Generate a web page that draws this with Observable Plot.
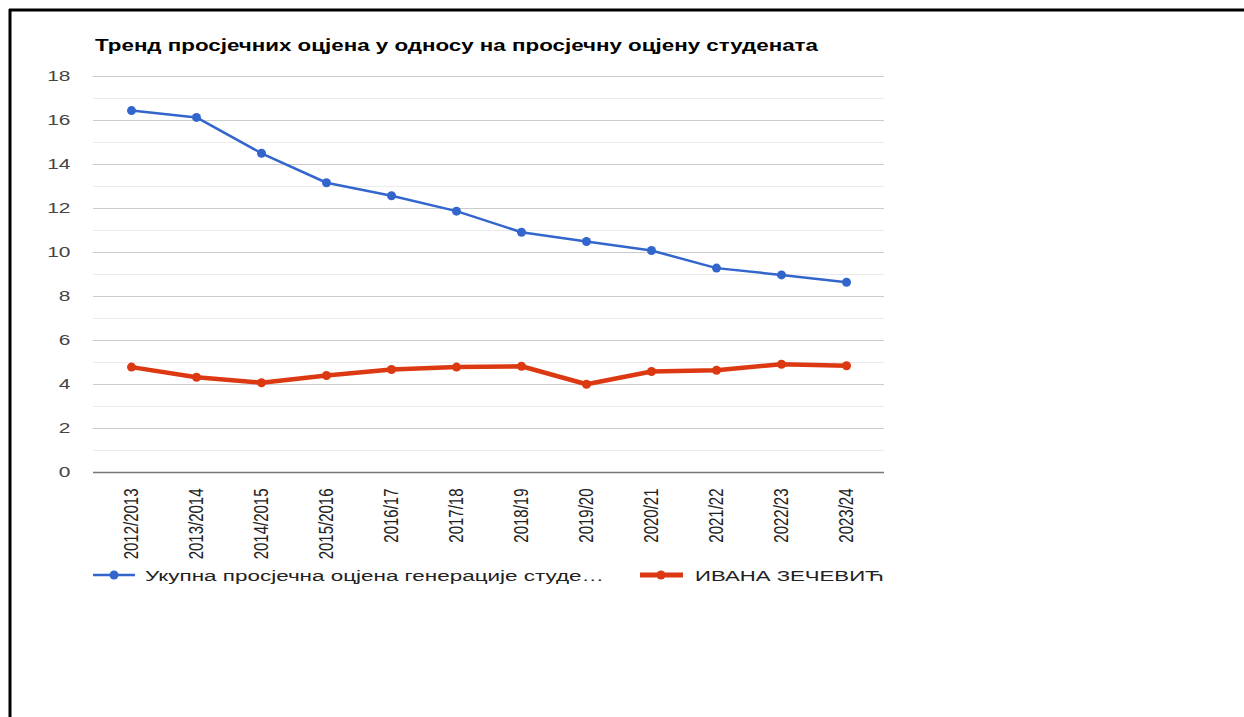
<!DOCTYPE html>
<html>
<head>
<meta charset="utf-8">
<script src="https://cdn.jsdelivr.net/npm/d3@7"></script>
<script src="https://cdn.jsdelivr.net/npm/@observablehq/plot@0.6"></script>
<style>
  html, body { margin: 0; padding: 0; background: #fff; }
  #wrap { position: relative; width: 1244px; height: 717px; overflow: hidden; font-family: "Liberation Sans", Arial, sans-serif; }
  #wrap > svg { position: absolute; left: 0; top: 0; }
</style>
</head>
<body>
<div id="wrap"></div>
<script>
const titleText = "Тренд просјечних оцјена у односу на просјечну оцјену студената";
const years = ["2012/2013","2013/2014","2014/2015","2015/2016","2016/17","2017/18","2018/19","2019/20","2020/21","2021/22","2022/23","2023/24"];
const seriesNames = ["Укупна просјечна оцјена генерације студе…", "ИВАНА ЗЕЧЕВИЋ"];
const totalAvg = [16.45,16.14,14.51,13.17,12.58,11.88,10.92,10.50,10.09,9.29,8.98,8.65];
const studentAvg = [4.79,4.33,4.08,4.41,4.68,4.79,4.83,4.01,4.59,4.65,4.92,4.85];
const yTicks = [0,2,4,6,8,10,12,14,16,18];
const yMinor = [1,3,5,7,9,11,13,15,17];
const colors = ["#3366cc", "#dc3912"];

const blueData = years.map((y, i) => ({year: y, value: totalAvg[i]}));
const redData = years.map((y, i) => ({year: y, value: studentAvg[i]}));

const wrap = document.getElementById("wrap");

const chart = Plot.plot({
  width: 1244,
  height: 560,
  marginLeft: 93,
  marginRight: 360,
  marginTop: 76,
  marginBottom: 88,
  style: {fontFamily: "'Liberation Sans', Arial, sans-serif", background: "transparent"},
  x: {type: "point", domain: years, padding: 0.5, label: null},
  y: {domain: [0, 18], label: null},
  marks: [
    Plot.ruleY(yMinor, {stroke: "#ebebeb", strokeWidth: 1}),
    Plot.ruleY(yTicks.filter(d => d > 0), {stroke: "#cccccc", strokeWidth: 1}),
    Plot.axisY({ticks: yTicks, tickSize: 0, tickPadding: 23, fontSize: 15.5, fill: "#444", label: null}),
    Plot.axisX({tickRotate: -90, tickSize: 0, tickPadding: 16, fontSize: 15, fill: "#222", label: null}),
    Plot.ruleY([0], {stroke: "#777", strokeWidth: 1.5}),
    Plot.lineY(redData, {x: "year", y: "value", stroke: colors[1], strokeWidth: 4.5}),
    Plot.dot(redData, {x: "year", y: "value", fill: colors[1], r: 4.5}),
    Plot.lineY(blueData, {x: "year", y: "value", stroke: colors[0], strokeWidth: 2.5}),
    Plot.dot(blueData, {x: "year", y: "value", fill: colors[0], r: 4.5})
  ]
});
wrap.appendChild(chart);

// widen y tick labels slightly to match the stretched original
d3.select(chart).selectAll('g[aria-label="y-axis tick label"] text').each(function() {
  const len = this.getComputedTextLength();
  this.setAttribute("textLength", len * 1.35);
  this.setAttribute("lengthAdjust", "spacingAndGlyphs");
});
// thicken rotated x labels horizontally (the original is stretched sideways)
d3.select(chart).selectAll('g[aria-label="x-axis tick label"] text').each(function() {
  const t = this.getAttribute("transform") || "";
  this.setAttribute("transform", t + " scale(1,1.3)");
});

// overlay: border, title, legend
const ov = d3.select(wrap).append("svg")
  .attr("width", 1244).attr("height", 717)
  .style("font-family", "'Liberation Sans', Arial, sans-serif");

ov.append("line").attr("x1", 9).attr("x2", 1244).attr("y1", 10).attr("y2", 10).attr("stroke", "#000").attr("stroke-width", 3);
ov.append("line").attr("x1", 10).attr("x2", 10).attr("y1", 9).attr("y2", 717).attr("stroke", "#000").attr("stroke-width", 3);

ov.append("text").attr("x", 95).attr("y", 51)
  .attr("font-size", 17).attr("font-weight", "bold").attr("fill", "#000")
  .attr("textLength", 723).attr("lengthAdjust", "spacingAndGlyphs")
  .text(titleText);

// legend
const lg = ov.append("g");
lg.append("line").attr("x1", 93).attr("x2", 135).attr("y1", 575).attr("y2", 575).attr("stroke", colors[0]).attr("stroke-width", 2.5);
lg.append("circle").attr("cx", 114).attr("cy", 575).attr("r", 4.5).attr("fill", colors[0]);
lg.append("text").attr("x", 145).attr("y", 581).attr("font-size", 15.5).attr("fill", "#222")
  .attr("textLength", 459).attr("lengthAdjust", "spacingAndGlyphs").text(seriesNames[0]);
lg.append("line").attr("x1", 640).attr("x2", 683).attr("y1", 575).attr("y2", 575).attr("stroke", colors[1]).attr("stroke-width", 5);
lg.append("circle").attr("cx", 661).attr("cy", 575).attr("r", 4.5).attr("fill", colors[1]);
lg.append("text").attr("x", 695).attr("y", 581).attr("font-size", 15.5).attr("fill", "#222")
  .attr("textLength", 189).attr("lengthAdjust", "spacingAndGlyphs").text(seriesNames[1]);
</script>
</body>
</html>
